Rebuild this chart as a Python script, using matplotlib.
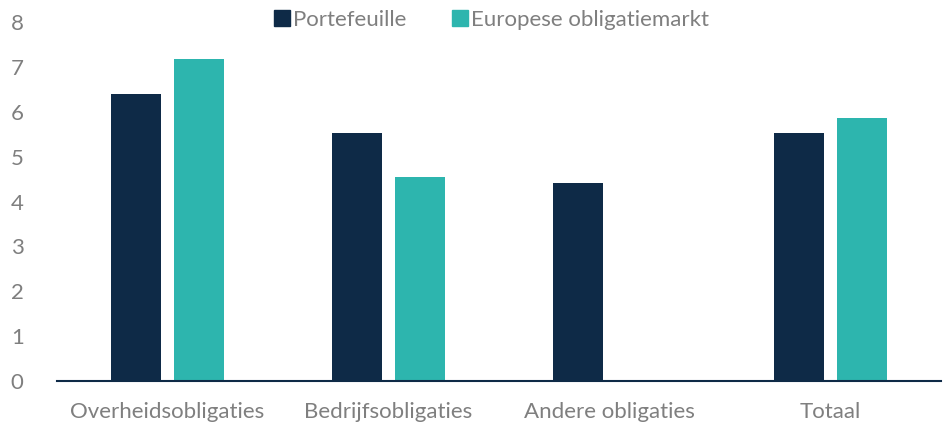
import matplotlib
matplotlib.use("Agg")
import matplotlib.pyplot as plt
import numpy as np
from matplotlib.lines import Line2D

categories = ["Overheidsobligaties", "Bedrijfsobligaties", "Andere obligaties", "Totaal"]
portefeuille = [6.4, 5.53, 4.41, 5.53]
europese_markt = [7.18, 4.55, 0, 5.86]

DARK = "#0E2A47"
TEAL = "#2DB5AE"
GREY = "#7F7F7F"

plt.rcParams["font.family"] = ["Lato", "DejaVu Sans"]

fig = plt.figure(figsize=(9.46, 4.22), dpi=100)
ax = fig.add_axes([57 / 946, 41 / 422, 884 / 946, 359 / 422])

x = np.arange(len(categories))
w = 0.226
off = 0.142
ax.bar(x - off, portefeuille, w, color=DARK)
ax.bar(x + off, europese_markt, w, color=TEAL)

ax.set_xlim(-0.5, 3.5)
ax.set_ylim(0, 8)
ax.set_yticks(range(0, 9))
ax.set_xticks(x)
ax.set_xticklabels(categories)
ax.tick_params(axis="both", length=0, labelsize=16, labelcolor=GREY)
ax.tick_params(axis="y", pad=24)
ax.tick_params(axis="x", pad=15)

for s in ["top", "right", "left"]:
    ax.spines[s].set_visible(False)
ax.spines["bottom"].set_color(DARK)
ax.spines["bottom"].set_linewidth(1.5)

handles = [Line2D([], [], marker="s", linestyle="", color=DARK, markersize=11),
           Line2D([], [], marker="s", linestyle="", color=TEAL, markersize=11)]
leg = fig.legend(handles, ["Portefeuille", "Europese obligatiemarkt"],
                 loc="center", bbox_to_anchor=(491 / 946, 1 - 20 / 422),
                 ncol=2, frameon=False, fontsize=16, handletextpad=0.1,
                 columnspacing=2.0, handlelength=0.8)
for t in leg.get_texts():
    t.set_color(GREY)

fig.savefig("out.png", dpi=100)
